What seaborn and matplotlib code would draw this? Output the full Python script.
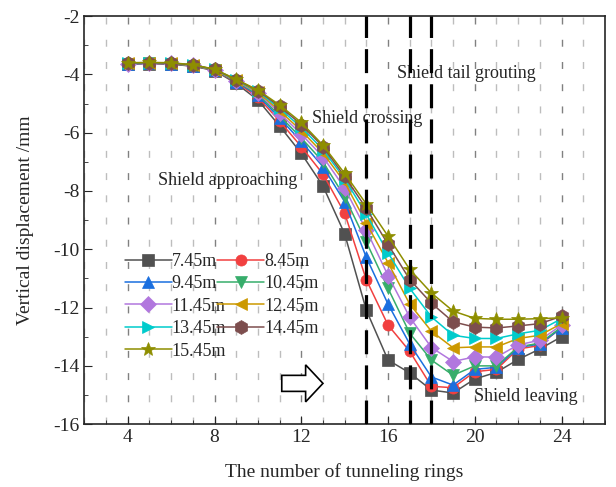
import numpy as np
import pandas as pd
import seaborn as sns
import matplotlib.pyplot as plt
import matplotlib.patches as mpatches
from matplotlib.ticker import MultipleLocator

# Ringnummern
rings = list(range(4, 25))

# Setzung je Tiefe (mm)
d_745 = [-3.65, -3.63, -3.65, -3.72, -3.87, -4.31, -4.88, -5.77, -6.71, -7.83, -9.47,
         -12.09, -13.80, -14.24, -14.83, -14.93, -14.45, -14.22, -13.78, -13.42, -13.00]
d_845 = [-3.64, -3.62, -3.64, -3.71, -3.86, -4.27, -4.78, -5.60, -6.48, -7.42, -8.76,
         -11.05, -12.60, -13.50, -14.70, -14.75, -14.20, -14.12, -13.42, -13.30, -12.67]
d_945 = [-3.64, -3.62, -3.63, -3.70, -3.85, -4.25, -4.72, -5.50, -6.30, -7.17, -8.37,
         -10.28, -11.88, -13.25, -14.38, -14.66, -14.12, -14.05, -13.37, -13.25, -12.70]
d_1045 = [-3.63, -3.61, -3.63, -3.70, -3.85, -4.24, -4.68, -5.42, -6.18, -7.00, -8.20,
          -9.75, -11.34, -12.88, -13.80, -14.32, -14.00, -14.00, -13.35, -13.22, -12.67]
d_1145 = [-3.63, -3.61, -3.62, -3.69, -3.84, -4.22, -4.64, -5.33, -6.05, -6.83, -7.90,
          -9.34, -10.90, -12.33, -13.37, -13.85, -13.69, -13.70, -13.28, -13.12, -12.60]
d_1245 = [-3.62, -3.60, -3.62, -3.69, -3.84, -4.21, -4.61, -5.25, -5.93, -6.70, -7.70,
          -9.10, -10.46, -11.88, -12.81, -13.38, -13.35, -13.35, -13.06, -12.95, -12.55]
d_1345 = [-3.62, -3.60, -3.61, -3.68, -3.83, -4.19, -4.58, -5.17, -5.82, -6.58, -7.58,
          -8.80, -10.12, -11.34, -12.32, -12.95, -13.06, -13.06, -12.90, -12.78, -12.38]
d_1445 = [-3.61, -3.60, -3.61, -3.68, -3.83, -4.18, -4.56, -5.10, -5.72, -6.48, -7.50,
          -8.60, -9.83, -11.04, -11.85, -12.49, -12.67, -12.70, -12.63, -12.55, -12.30]
d_1545 = [-3.60, -3.59, -3.60, -3.67, -3.82, -4.17, -4.54, -5.05, -5.65, -6.43, -7.40,
          -8.45, -9.55, -10.69, -11.50, -12.12, -12.37, -12.40, -12.40, -12.38, -12.35]

labels = ["7.45m", "8.45m", "9.45m", "10.45m", "11.45m", "12.45m", "13.45m", "14.45m", "15.45m"]
series = [d_745, d_845, d_945, d_1045, d_1145, d_1245, d_1345, d_1445, d_1545]
colors = ["#515151", "#F14040", "#1A6FDF", "#37AD6B", "#B177DE", "#CC9900", "#00CBCC", "#7D4E4E", "#8E8E00"]
markers = ["s", "o", "^", "v", "D", "<", ">", "h", "*"]

# Phasengrenzen
phase_lines = [15, 17, 18]

sns.set_style("ticks")
plt.rcParams["font.family"] = ["Liberation Serif", "DejaVu Serif"]
plt.rcParams["axes.unicode_minus"] = False

fig, ax = plt.subplots(figsize=(6.16, 4.87), dpi=100)
fig.subplots_adjust(left=0.137, right=0.982, top=0.967, bottom=0.129)

# Gitterlinien
ax.xaxis.set_major_locator(MultipleLocator(4))
ax.xaxis.set_minor_locator(MultipleLocator(1))
ax.yaxis.set_major_locator(MultipleLocator(2))
ax.yaxis.set_minor_locator(MultipleLocator(1))
ax.grid(which="major", axis="x", color="#808080", lw=1, ls=(0, (5, 11)))
ax.grid(which="minor", axis="x", color="#bdbdbd", lw=1, ls=(0, (5, 11)))
ax.set_axisbelow(True)

for xv in phase_lines:
    ax.axvline(xv, color="black", lw=2.3, ls=(0, (7.5, 3.5)), zorder=5)

for lab, vals, col, mk in zip(labels, series, colors, markers):
    ms = 10 if mk in ("*", "h") else 8
    sns.lineplot(x=rings, y=vals, ax=ax, color=col, marker=mk, markersize=ms,
                 markeredgecolor=col, markeredgewidth=0.5, lw=1.1, label=lab, zorder=3)

ax.set_xlim(2, 26)
ax.set_ylim(-16, -2)
ax.tick_params(which="both", direction="in", labelsize=14)
ax.tick_params(which="major", length=6)
ax.tick_params(which="minor", length=3)
for sp in ax.spines.values():
    sp.set_linewidth(1.2)

ax.set_xlabel("The number of tunneling rings", fontsize=14, labelpad=12)
ax.set_ylabel("Vertical displacement /mm", fontsize=14, labelpad=14)

# Legende zeilenweise anordnen
handles, labs = ax.get_legend_handles_labels()
order = [0, 2, 4, 6, 8, 1, 3, 5, 7]
ax.legend([handles[i] for i in order], [labs[i] for i in order], ncol=2, frameon=False,
          fontsize=13, loc="upper left", bbox_to_anchor=(0.05, 0.455), handlelength=2.6,
          handletextpad=0.0, columnspacing=-0.5, labelspacing=0.3, borderpad=0.3)

# Phasenbeschriftung
ax.text(8.63, -7.63, "Shield approaching", fontsize=13, ha="center", va="center")
ax.text(15.05, -5.5, "Shield crossing", fontsize=13, ha="center", va="center")
ax.text(19.6, -3.96, "Shield tail grouting", fontsize=13, ha="center", va="center")
ax.text(22.35, -15.04, "Shield leaving", fontsize=13, ha="center", va="center")

# Vortriebsrichtung
arrow = mpatches.FancyArrow(11.1, -14.6, 1.9, 0, width=0.55, head_width=1.27, head_length=0.8,
                            length_includes_head=True, fc="white", ec="black", lw=1.2, zorder=4)
ax.add_patch(arrow)

plt.savefig("out.png", dpi=100)
